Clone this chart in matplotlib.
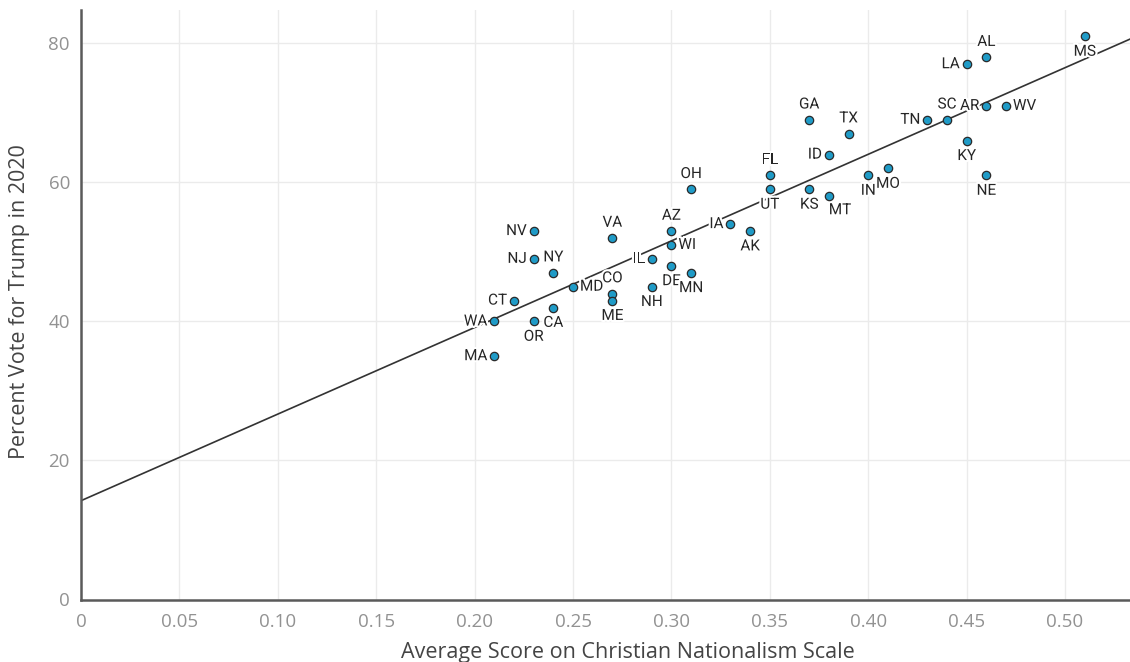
import numpy as np
import matplotlib.pyplot as plt
import matplotlib.patheffects as pe

# Datos: puntaje medio de nacionalismo cristiano y voto por Trump 2020
states = ['MS', 'AL', 'LA', 'SC', 'AR', 'WV', 'TN', 'KY', 'NE',
          'GA', 'TX', 'ID', 'FL', 'UT', 'KS', 'MT', 'IN', 'MO',
          'OH', 'IA', 'AK', 'AZ', 'WI', 'DE', 'MN', 'IL', 'NH',
          'VA', 'CO', 'ME', 'MD', 'NV', 'NJ', 'NY', 'CT', 'CA',
          'OR', 'WA', 'MA']
cn_score = [0.51, 0.46, 0.45, 0.44, 0.46, 0.47, 0.43, 0.45, 0.46,
            0.37, 0.39, 0.38, 0.35, 0.35, 0.37, 0.38, 0.40, 0.41,
            0.31, 0.33, 0.34, 0.30, 0.30, 0.30, 0.31, 0.29, 0.29,
            0.27, 0.27, 0.27, 0.25, 0.23, 0.23, 0.24, 0.22, 0.24,
            0.23, 0.21, 0.21]
trump_vote = [81, 78, 77, 69, 71, 71, 69, 66, 61,
              69, 67, 64, 61, 59, 59, 58, 61, 62,
              59, 54, 53, 53, 51, 48, 47, 49, 45,
              52, 44, 43, 45, 53, 49, 47, 43, 42,
              40, 40, 35]
# posicion de cada etiqueta respecto al punto
label_pos = ['below', 'above', 'left', 'above', 'left', 'right', 'left', 'below', 'below',
             'above', 'above', 'left', 'above', 'below', 'below', 'belowright', 'below', 'below',
             'above', 'left', 'below', 'above', 'right', 'below', 'below', 'left', 'below',
             'above', 'above', 'below', 'right', 'left', 'left', 'above', 'left', 'below',
             'below', 'left', 'left']

x_ticks = [0, 0.05, 0.10, 0.15, 0.20, 0.25, 0.30, 0.35, 0.40, 0.45, 0.50]
x_tick_labels = ['0', '0.05', '0.10', '0.15', '0.20', '0.25', '0.30', '0.35', '0.40', '0.45', '0.50']
y_ticks = [0, 20, 40, 60, 80]

offsets = {
    'above': ((0, 6), 'center', 'bottom'),
    'below': ((0, -6), 'center', 'top'),
    'left': ((-5, 0), 'right', 'center'),
    'right': ((5, 0), 'left', 'center'),
    'belowright': ((8, -5), 'center', 'top'),
}

fig = plt.figure(figsize=(11.3, 6.62), dpi=100)
ax = fig.add_axes([81 / 1130, 1 - 599.5 / 662, 1 - 81 / 1130, (599.5 - 10) / 662])

xlim = (0, 0.533)
ylim = (0, 84.8)

# Recta de regresion
slope, intercept = np.polyfit(cn_score, trump_vote, 1)
xs = np.array(xlim)
ax.plot(xs, intercept + slope * xs, color='#333333', lw=1.2, zorder=2)

ax.scatter(cn_score, trump_vote, s=36, color='#1f9bc7', edgecolors='#2a2a2a',
           linewidths=0.9, zorder=4)

for st, xv, yv, pos in zip(states, cn_score, trump_vote, label_pos):
    (dx, dy), ha, va = offsets[pos]
    ax.annotate(st, (xv, yv), xytext=(dx, dy), textcoords='offset points',
                ha=ha, va=va, fontsize=11, family='Roboto', color='#262626', zorder=3,
                path_effects=[pe.withStroke(linewidth=3, foreground='white')])

ax.set_xlim(*xlim)
ax.set_ylim(*ylim)
ax.set_xticks(x_ticks)
ax.set_xticklabels(x_tick_labels)
ax.set_yticks(y_ticks)
ax.grid(True, color='#ebebeb', lw=1, zorder=0)
ax.set_axisbelow(True)

for side in ['top', 'right']:
    ax.spines[side].set_visible(False)
for side in ['left', 'bottom']:
    ax.spines[side].set_color('#5a5a5a')
    ax.spines[side].set_linewidth(1.8)

ax.tick_params(length=0, labelsize=13.5, labelcolor='#929292')
ax.tick_params(axis='x', pad=10)
ax.tick_params(axis='y', pad=8)
for lbl in ax.get_xticklabels() + ax.get_yticklabels():
    lbl.set_family('Open Sans')

ax.set_xlabel('Average Score on Christian Nationalism Scale', fontsize=15.5,
              family='Open Sans', color='#444444')
ax.set_ylabel('Percent Vote for Trump in 2020', fontsize=15.5,
              family='Open Sans', color='#444444')
ax.xaxis.set_label_coords(0.521, -0.072)
ax.yaxis.set_label_coords(-0.049, 0.505)

plt.savefig('out.png', dpi=100)
plt.close()
